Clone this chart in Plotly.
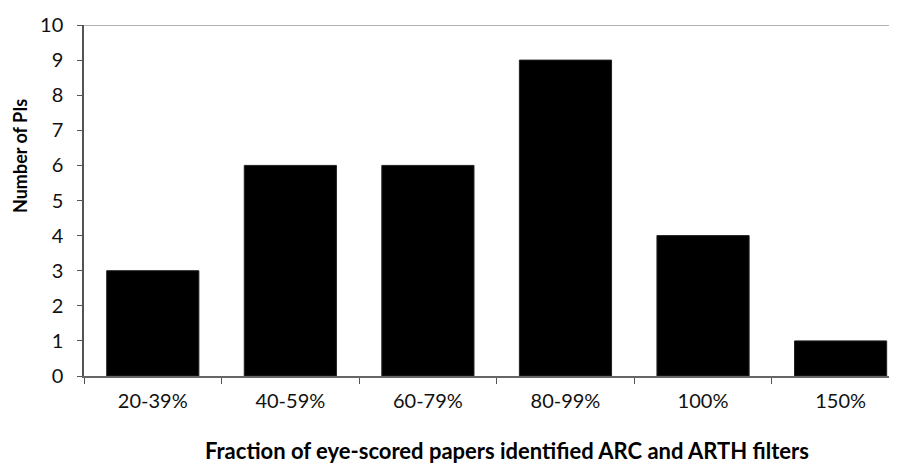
import plotly.graph_objects as go

categories = ["20-39%", "40-59%", "60-79%", "80-99%", "100%", "150%"]
counts = [3, 6, 6, 9, 4, 1]
y_ticks = list(range(0, 11))

x_title = "Fraction of eye-scored papers identified ARC and ARTH filters"
y_title = "Number of PIs"

# the page body has an 8px default margin; size the figure to compensate
W, H = 889, 456
L, T, B = 76, 17, 88
PW, PH = W - L, H - T - B

fig = go.Figure()
fig.add_trace(go.Bar(
    x=categories,
    y=counts,
    marker=dict(color="#000000", line=dict(color="#222222", width=1)),
    width=0.67,
    hoverinfo="skip",
))

fig.add_shape(type="line", xref="paper", yref="y", x0=0, x1=1, y0=10, y1=10,
              line=dict(color="#9a9a9a", width=1.5))

fig.update_layout(
    width=W, height=H,
    margin=dict(l=L, r=0, t=T, b=B),
    plot_bgcolor="white", paper_bgcolor="white",
    showlegend=False,
    font=dict(family="Lato, sans-serif", color="#111111"),
    xaxis=dict(
        type="category",
        range=[-0.5, 5.41],
        showgrid=False, zeroline=False,
        showline=True, linecolor="#666666", linewidth=1.5,
        ticks="outside", tickson="boundaries", ticklen=6, tickcolor="#555555",
        tickfont=dict(size=20, color="#111111"),
        ticklabelstandoff=6,
    ),
    yaxis=dict(
        range=[0, 10],
        tickmode="array", tickvals=y_ticks,
        showgrid=False, zeroline=False,
        showline=True, linecolor="#555555", linewidth=1.5,
        ticks="outside", ticklen=5, tickcolor="#555555",
        tickfont=dict(size=20, color="#111111"),
        ticklabelstandoff=10,
    ),
)

fig.add_annotation(text="<b>" + x_title + "</b>", xref="paper", yref="paper",
                   x=(507 - 84) / PW, y=-(450 - 376) / PH, showarrow=False,
                   font=dict(size=22, color="#000000"), xanchor="center", yanchor="middle")
fig.add_annotation(text="<b>" + y_title + "</b>", xref="paper", yref="paper",
                   x=-(84 - 20) / PW, y=(376 - 156) / PH, showarrow=False, textangle=-90,
                   font=dict(size=18, color="#000000"), xanchor="center", yanchor="middle")

fig.write_html("out.html")
